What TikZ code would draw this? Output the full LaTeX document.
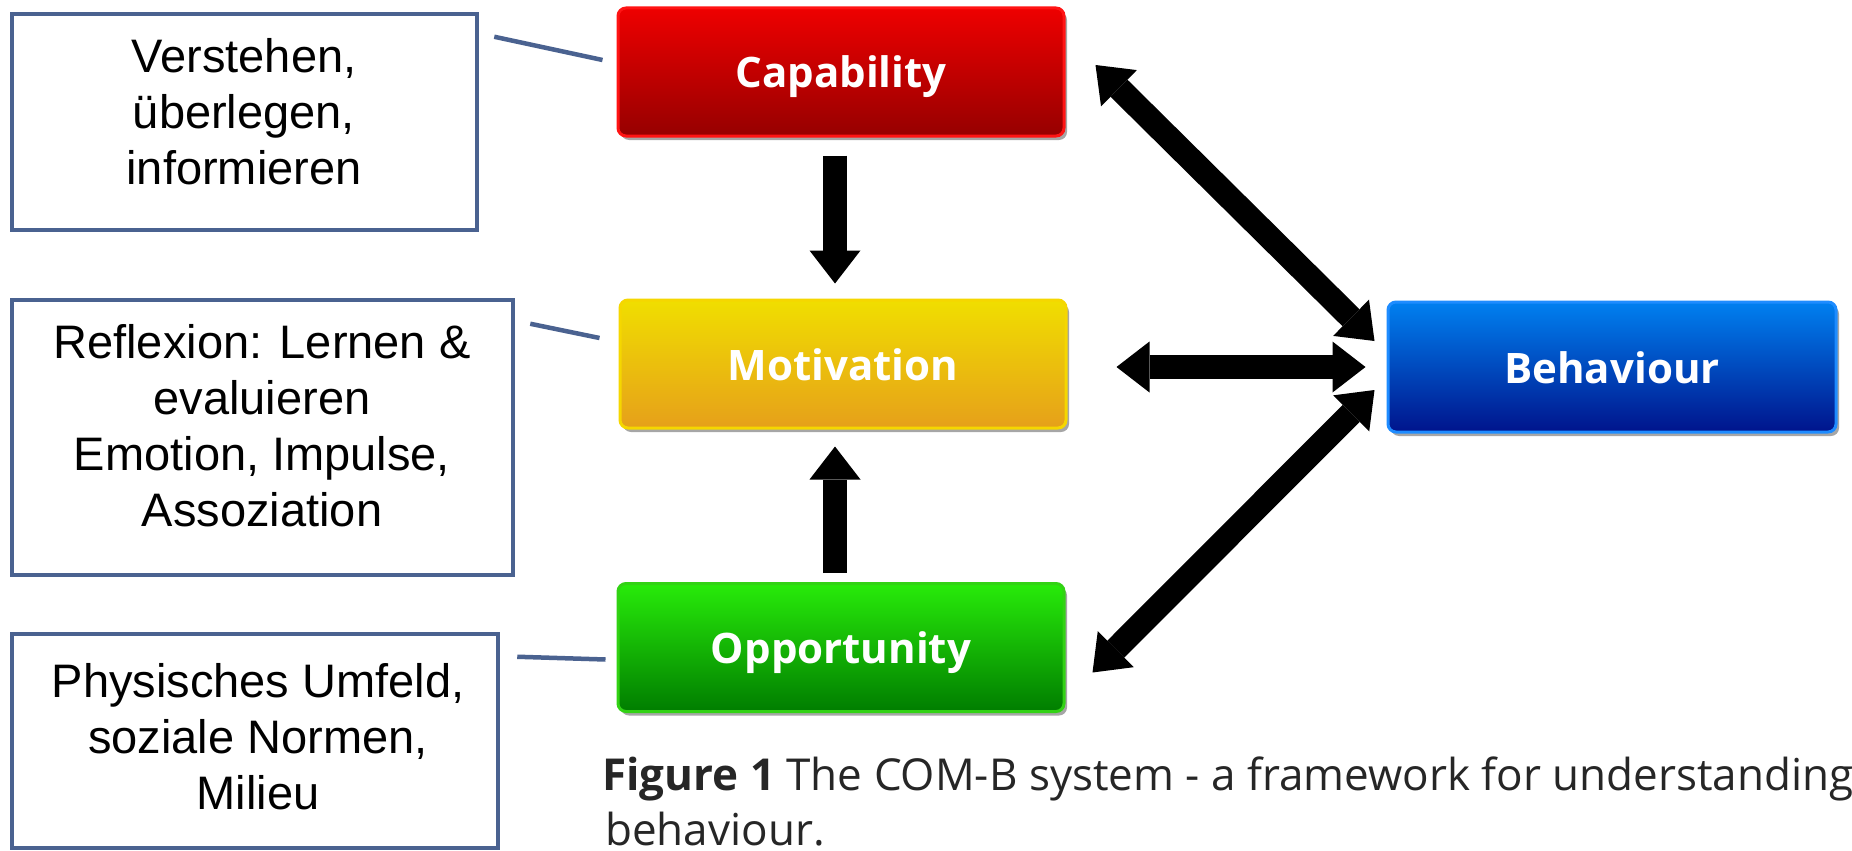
\documentclass[tikz,border=0pt]{standalone}
\usepackage{fontspec}
\setmainfont{Liberation Sans}
\newfontfamily\opensans{Open Sans}
\usetikzlibrary{arrows.meta,calc,shadows}
\definecolor{slate}{RGB}{74,98,144}
\definecolor{capTop}{RGB}{238,0,0}
\definecolor{capBot}{RGB}{150,0,0}
\definecolor{capLine}{RGB}{255,20,20}
\definecolor{motTop}{RGB}{240,222,0}
\definecolor{motBot}{RGB}{230,160,26}
\definecolor{motLine}{RGB}{245,215,0}
\definecolor{oppTop}{RGB}{40,235,10}
\definecolor{oppBot}{RGB}{0,125,0}
\definecolor{oppLine}{RGB}{50,210,20}
\definecolor{behTop}{RGB}{0,128,240}
\definecolor{behBot}{RGB}{0,20,140}
\definecolor{behLine}{RGB}{30,140,255}
\tikzset{
  BA/.tip={Triangle[length=33pt,width=51pt,line width=0pt]},
  bigarrow/.style={line width=24pt, black},
  cbox/.style={rounded corners=8pt, minimum width=446pt, minimum height=128pt,
    inner sep=0pt, line width=3pt, text=white, text height=32pt, text depth=0pt,
    font=\opensans\bfseries\fontsize{42}{50}\selectfont,
    drop shadow={shadow xshift=3pt, shadow yshift=-4pt, fill=black, opacity=0.35}},
  tbox/.style={draw=slate, line width=4.5pt, fill=white, inner sep=0pt},
  ttext/.style={align=center, font=\fontsize{47}{56}\selectfont, inner sep=0pt},
  conn/.style={draw=slate, line width=4.5pt},
  captxt/.style={font=\opensans\fontsize{44}{57}\selectfont, text=black!85, anchor=base west, inner sep=0pt}
}
\begin{document}
\begin{tikzpicture}[x=1pt,y=-1pt]
\useasboundingbox (0,0) rectangle (1852,851);
\fill[white] (0,0) rectangle (1852,851);
\clip (0,0) rectangle (1852,851);

% left text boxes
\node[tbox, minimum width=465pt, minimum height=216pt] (b1) at (244.5,122) {};
\node[ttext] (t1) at (244,112) {Verstehen,\\überlegen,\\informieren};
\node[tbox, minimum width=501pt, minimum height=275pt] (b2) at (262.5,437.5) {};
\node[ttext] (t2) at (262,426) {Reflexion: Lernen \&\\evaluieren\\Emotion, Impulse,\\Assoziation};
\node[tbox, minimum width=486pt, minimum height=214pt] (b3) at (255,741) {};
\node[ttext] (t3) at (258,737) {Physisches Umfeld,\\soziale Normen,\\Milieu};

% COM-B boxes
\node[cbox, draw=capLine, top color=capTop, bottom color=capBot] (cap) at (841,72) {Capability};
\node[cbox, draw=motLine, top color=motTop, bottom color=motBot] (mot) at (843,364) {Motivation};
\node[cbox, draw=oppLine, top color=oppTop, bottom color=oppBot] (opp) at (841,647.5) {Opportunity};
\node[cbox, draw=behLine, top color=behTop, bottom color=behBot, minimum width=448pt, minimum height=130pt] (beh) at (1612,367) {Behaviour};

% connectors from text boxes
\draw[conn] ($(b1.north east)+(15,25)$) -- ($(cap.west)+(-14,-12)$);
\draw[conn] ($(b2.north east)+(15,26)$) -- ($(mot.west)+(-19,-26)$);
\draw[conn] ($(b3.north east)+(17,25)$) -- ($(opp.west)+(-11,12)$);

% block arrows
\draw[bigarrow, -BA] ($(cap.south)+(-6,18)$) -- ($(mot.north)+(-8,-15)$);
\draw[bigarrow, -BA] ($(opp.north)+(-6,-9)$) -- ($(mot.south)+(-8,17)$);
\draw[bigarrow, BA-BA] ($(mot.east)+(49,3)$) -- ($(beh.west)+(-21,0)$);
\draw[bigarrow, BA-BA] ($(cap.east)+(30,-7)$) -- ($(beh.west)+(-12,-26)$);
\draw[bigarrow, BA-BA] ($(opp.east)+(27,25)$) -- ($(beh.west)+(-12,23)$);

% caption
\node[captxt] (c1) at (602,790) {\textbf{Figure 1} The COM-B system - a framework for understanding};
\node[captxt] (c2) at (605,845) {behaviour.};
\end{tikzpicture}
\end{document}
